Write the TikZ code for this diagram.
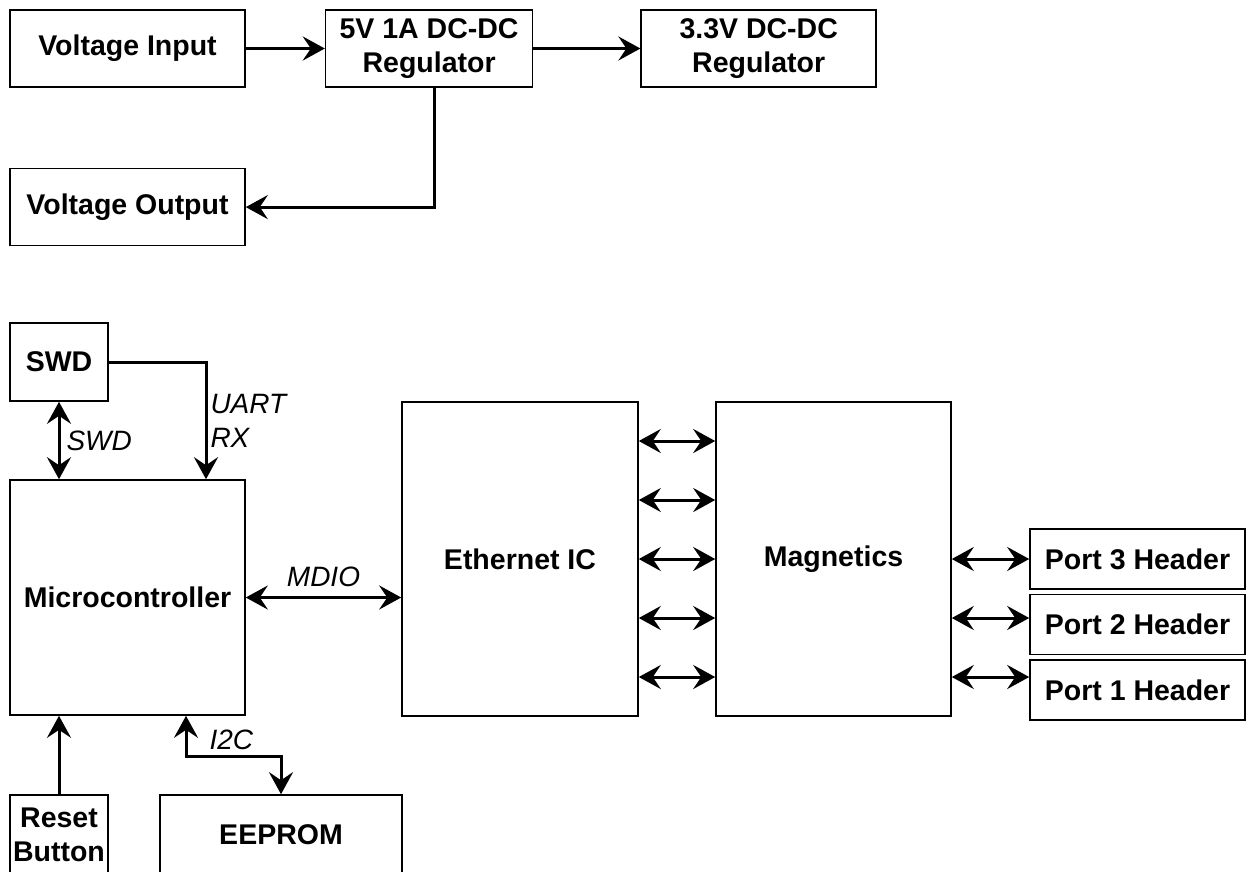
\documentclass[tikz,border=0pt]{standalone}
\usepackage{fontspec}
\setmainfont{Liberation Sans}
\usetikzlibrary{positioning,arrows.meta}

\begin{document}
\begin{tikzpicture}[
		x=1pt, y=-1pt,
		>={Stealth[length=22pt,width=24pt,inset=8pt]},
		block/.style={
			draw,
			line width=1.6pt,
			inner sep=0pt,
			align=center,
			font=\fontsize{28.5}{34}\selectfont\bfseries
		},
		sig/.style={line width=3pt},
		lbl/.style={
			inner sep=0pt,
			align=left,
			font=\fontsize{28}{34}\selectfont\itshape
		}
		]
		
		\useasboundingbox (0,0) rectangle (1246,871);
		\clip (0,0) rectangle (1246,871);
		
		%--------------------------------------------------
		% Power section
		%--------------------------------------------------
		
		\node (vin) [block, minimum width=235pt, minimum height=77pt]
		at (127.5,48.5) {Voltage Input};
		
		\node (reg5) [block, minimum width=207pt, minimum height=77pt,
		right=79pt of vin] {5V 1A DC-DC\\Regulator};
		
		\node (reg33) [block, minimum width=235pt, minimum height=77pt,
		right=107pt of reg5] {3.3V DC-DC\\Regulator};
		
		\node (vout) [block, minimum width=235pt, minimum height=77pt,
		below=80pt of vin] {Voltage Output};
		
		\draw[->,sig] (vin) -- (reg5);
		
		\draw[->,sig] (reg5) -- (reg33);
		
		\draw[->,sig]
		([xshift=5pt]reg5.south) |- (vout.east);
		
		%--------------------------------------------------
		% Controller section
		%--------------------------------------------------
		
		\node (swd) [block, minimum width=98pt, minimum height=78pt]
		at (59,362) {SWD};
		
		\node (mcu) [block, minimum width=235pt, minimum height=235pt]
		at (127.5,597.5) {Microcontroller};
		
		\node (reset) [block, minimum width=98pt, minimum height=80pt]
		at (59,835) {Reset\\Button};
		
		\node (eeprom) [block, minimum width=242pt, minimum height=80pt]
		at (281,835) {EEPROM};
		
		\draw[<->,sig]
		(swd.south) -- node[lbl,right=6pt]{SWD}
		(swd.south |- mcu.north);
		
		\draw[->,sig]
		(swd.east) -| node[lbl,pos=0.75,right=3pt]{UART\\RX}
		([xshift=78.5pt]mcu.north);
		
		\draw[->,sig]
		(reset.north) -- (reset.north |- mcu.south);
		
		\draw[<->,sig]
		([xshift=58.5pt]mcu.south)
		|- node[lbl,pos=0.3,right=22pt]{I2C}
		([yshift=38pt]eeprom.north) -- (eeprom.north);
		
		%--------------------------------------------------
		% Ethernet section
		%--------------------------------------------------
		
		\node (eth) [block, minimum width=236pt, minimum height=314pt]
		at (520,559) {Ethernet IC};
		
		\node (mag) [block, minimum width=235pt, minimum height=314pt]
		at (833.5,559) {Magnetics};
		
		\node (port3) [block, minimum width=215pt, minimum height=60pt]
		at (1137.5,559) {Port 3 Header};
		
		\node (port2) [block, minimum width=215pt, minimum height=60pt,
		below=4pt of port3] {Port 2 Header};
		
		\node (port1) [block, minimum width=215pt, minimum height=60pt,
		below=4pt of port2] {Port 1 Header};
		
		\draw[<->,sig]
		(mcu.east) -- node[lbl,above=9pt]{MDIO}
		(mcu.east -| eth.west);
		
		\foreach \k in {-2,...,2}
		\draw[<->,sig]
		([yshift=\k*59pt]eth.east) -- ([yshift=\k*59pt]mag.west);
		
		\draw[<->,sig] (mag.east) -- (port3.west);
		
		\draw[<->,sig]
		([yshift=-59pt]mag.east) -- ([yshift=-59pt]mag.east -| port2.west);
		
		\draw[<->,sig]
		([yshift=-118pt]mag.east) -- ([yshift=-118pt]mag.east -| port1.west);
		
	\end{tikzpicture}
\end{document}
